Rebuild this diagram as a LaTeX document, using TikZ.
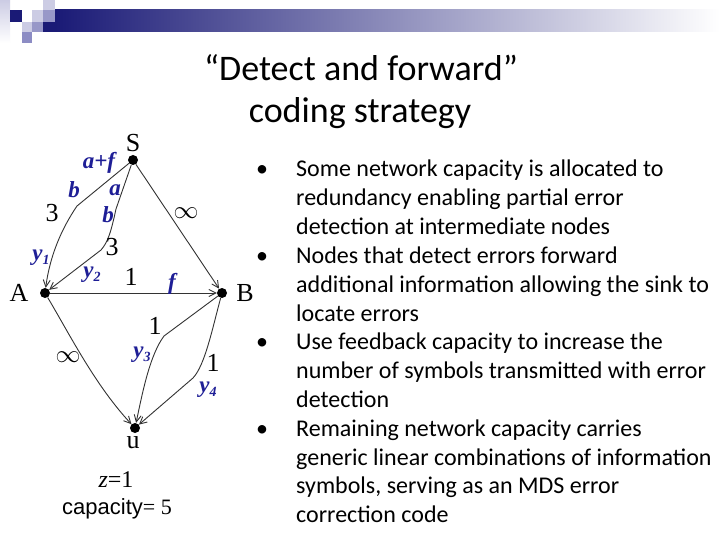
\documentclass[tikz,border=0pt]{standalone}
\usepackage{fontspec}
\setmainfont{Liberation Serif}
\newfontfamily\calib{Carlito}
\newfontfamily\arial{Liberation Sans}
\usetikzlibrary{arrows.meta}
\definecolor{navy}{RGB}{26,26,118}
\definecolor{lblue}{RGB}{30,30,150}
\definecolor{sqa}{RGB}{204,204,228}
\definecolor{sqb}{RGB}{152,152,200}
\definecolor{sqc}{RGB}{140,140,196}
\newcommand{\sub}[1]{\raisebox{-4pt}{\fontsize{14}{14}\selectfont #1}}
\begin{document}
\begin{tikzpicture}[x=1pt,y=-1pt,
 dot/.style={circle,fill=black,inner sep=0pt,minimum size=10pt},
 edge/.style={draw=black!80,line width=0.9pt,-{Straight Barb[length=7pt,width=7pt]}},
 lab/.style={inner sep=0pt,font=\fontsize{26}{26}\selectfont},
 blab/.style={inner sep=0pt,text=lblue,font=\fontsize{23}{23}\selectfont\bfseries\itshape},
 btext/.style={anchor=base west,inner sep=0pt,font=\calib\fontsize{24}{24}\selectfont},
 ttext/.style={anchor=base,inner sep=0pt,font=\calib\fontsize{36}{36}\selectfont},
]
\useasboundingbox (0,0) rectangle (720,540);
\fill[white] (0,0) rectangle (720,540);
% header decoration
\shade[top color=sqa, bottom color=white] (0,0) rectangle (10,43);
\shade[left color=navy, right color=white] (55,10) rectangle (720,32);
\fill[navy] (43,22) rectangle (55,32);
\fill[navy] (10,10) rectangle (22,22);
\fill[sqa] (43,0) rectangle (55,10);
\fill[sqa] (32,10) rectangle (43,22);
\fill[sqb] (43,10) rectangle (55,22);
\fill[sqa] (22,22) rectangle (32,32);
\fill[sqb] (32,22) rectangle (43,32);
\fill[sqc] (22,32) rectangle (32,43);
% title
\node[ttext] (t1) at (361,81) {“Detect and forward”};
\node[ttext] (t2) at (360,123) {coding strategy};
% graph nodes
\node[dot] (S) at (133,160) {};
\node[dot] (A) at (45,293) {};
\node[dot] (B) at (222,293) {};
\node[dot] (u) at (135,428) {};
\node[lab] (lS) at (133,143) {S};
\node[lab] (lA) at (19,293) {A};
\node[lab] (lB) at (245,293) {B};
\node[lab] (lu) at (133,443) {u};
% edges
\draw[edge] (S) -- (77,206) .. controls (62,228) and (50,255) .. (A);
\draw[edge] (S) -- (116,209) .. controls (111,232) and (108,242) .. (101,250) -- (A);
\draw[edge] (S) -- (B);
\draw[edge] (A) -- (B);
\draw[edge] (A) .. controls (70,335) and (95,385) .. (u);
\draw[edge] (B) -- (164,336) .. controls (150,355) and (143,390) .. (u);
\draw[edge] (B) .. controls (212,330) and (205,365) .. (193,378) -- (u);
% edge labels
\node[blab] (l1) at (99,163) {a+f};
\node[blab] (l2) at (74,190) {b};
\node[lab] (l3) at (52,213) {3};
\node[blab] (l4) at (115,190) {a};
\node[blab] (l5) at (108,215) {b};
\node[lab] (l6) at (112,247) {3};
\node[blab] (l7) at (41,258) {y\sub{1}};
\node[blab] (l8) at (92,275) {y\sub{2}};
\node[lab] (l9) at (131,277) {1};
\node[blab] (l10) at (172,284) {f};
\node[lab] (l11) at (186,213) {$\infty$};
\node[lab] (l12) at (155,326) {1};
\node[lab] (l13) at (68,357) {$\infty$};
\node[blab] (l14) at (142,355) {y\sub{3}};
\node[lab] (l15) at (213,363) {1};
\node[blab] (l16) at (208,390) {y\sub{4}};
\node[lab,font=\fontsize{24}{24}\selectfont] (z) at (116,480) {\itshape z\upshape =1};
\node[lab,font=\fontsize{22}{22}\selectfont] (cap) at (117,509) {{\arial capacity}= 5};
% bullets
\node[btext] (d1) at (256,177) {•};
\node[btext] (d2) at (256,263.4) {•};
\node[btext] (d3) at (256,349.8) {•};
\node[btext] (d4) at (256,436.2) {•};
\node[btext] (x1) at (296,177) {Some network capacity is allocated to};
\node[btext] (x2) at (296,205.8) {redundancy enabling partial error};
\node[btext] (x3) at (296,234.6) {detection at intermediate nodes};
\node[btext] (x4) at (296,263.4) {Nodes that detect errors forward};
\node[btext] (x5) at (296,292.2) {additional information allowing the sink to};
\node[btext] (x6) at (296,321) {locate errors};
\node[btext] (x7) at (296,349.8) {Use feedback capacity to increase the};
\node[btext] (x8) at (296,378.6) {number of symbols transmitted with error};
\node[btext] (x9) at (296,407.4) {detection};
\node[btext] (x10) at (296,436.2) {Remaining network capacity carries};
\node[btext] (x11) at (296,465) {generic linear combinations of information};
\node[btext] (x12) at (296,493.8) {symbols, serving as an MDS error};
\node[btext] (x13) at (296,522.6) {correction code};
\end{tikzpicture}
\end{document}
